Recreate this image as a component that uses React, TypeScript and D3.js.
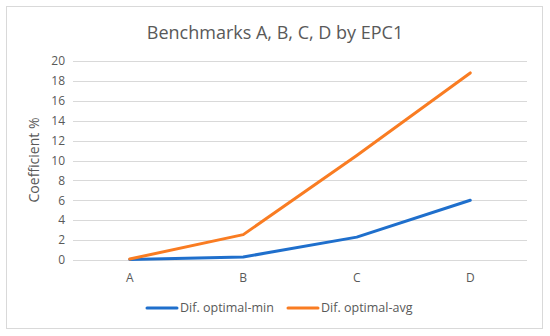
import React, { useEffect, useRef } from "react";
import * as d3 from "d3";

const categories = ["A", "B", "C", "D"];
const minValues = [0.05, 0.3, 2.3, 6.0];
const avgValues = [0.1, 2.55, 10.5, 18.8];
const seriesNames = ["Dif. optimal-min", "Dif. optimal-avg"];
const seriesColors = ["#1f6fcc", "#f97c22"];
const yTicks = [0, 2, 4, 6, 8, 10, 12, 14, 16, 18, 20];

const App = () => {
  const ref = useRef<SVGSVGElement>(null);

  useEffect(() => {
    const W = 550, H = 336;
    const margin = { top: 61, right: 23, bottom: 76, left: 73 };
    const width = W - margin.left - margin.right;
    const height = H - margin.top - margin.bottom;
    const font = "'Open Sans', sans-serif";

    const svg = d3.select(ref.current);
    svg.selectAll("*").remove();

    // frame
    svg.append("rect")
      .attr("x", 6.5).attr("y", 6.5)
      .attr("width", 536).attr("height", 322)
      .attr("fill", "#fff").attr("stroke", "#d9d9d9");

    svg.append("text")
      .attr("x", 275).attr("y", 39)
      .attr("text-anchor", "middle")
      .attr("font-family", font).attr("font-size", 18)
      .attr("fill", "#595959")
      .text("Benchmarks A, B, C, D by EPC1");

    const g = svg.append("g")
      .attr("transform", "translate(" + margin.left + "," + margin.top + ")");

    const x = d3.scalePoint<string>().domain(categories).range([0, width]).padding(0.5);
    const y = d3.scaleLinear().domain([0, 20]).range([height, 0]);

    // grid
    g.selectAll("line.grid")
      .data(yTicks)
      .enter().append("line")
      .attr("class", "grid")
      .attr("x1", 0).attr("x2", width)
      .attr("y1", d => Math.round(y(d)) + 0.5)
      .attr("y2", d => Math.round(y(d)) + 0.5)
      .attr("stroke", "#d9d9d9").attr("stroke-width", 1);

    g.selectAll("text.ytick")
      .data(yTicks)
      .enter().append("text")
      .attr("class", "ytick")
      .attr("x", -8).attr("y", d => y(d))
      .attr("dy", "0.35em")
      .attr("text-anchor", "end")
      .attr("font-family", font).attr("font-size", 12)
      .attr("fill", "#595959")
      .text(d => d);

    g.selectAll("text.xtick")
      .data(categories)
      .enter().append("text")
      .attr("class", "xtick")
      .attr("x", d => x(d)!).attr("y", height + 22)
      .attr("text-anchor", "middle")
      .attr("font-family", font).attr("font-size", 12)
      .attr("fill", "#595959")
      .text(d => d);

    svg.append("text")
      .attr("transform", "translate(39,160) rotate(-90)")
      .attr("text-anchor", "middle")
      .attr("font-family", font).attr("font-size", 14)
      .attr("fill", "#595959")
      .text("Coefficient %");

    const line = d3.line<number>()
      .x((d, i) => x(categories[i])!)
      .y(d => y(d));

    [minValues, avgValues].forEach((vals, i) => {
      g.append("path")
        .datum(vals)
        .attr("d", line)
        .attr("fill", "none")
        .attr("stroke", seriesColors[i])
        .attr("stroke-width", 3)
        .attr("stroke-linejoin", "round")
        .attr("stroke-linecap", "round");
    });

    // legend
    const legendX = [147, 288];
    seriesNames.forEach((name, i) => {
      const lg = svg.append("g").attr("transform", "translate(" + legendX[i] + ",308)");
      lg.append("line")
        .attr("x1", 0).attr("x2", 30).attr("y1", 0).attr("y2", 0)
        .attr("stroke", seriesColors[i]).attr("stroke-width", 3)
        .attr("stroke-linecap", "round");
      lg.append("text")
        .attr("x", 33).attr("y", 0).attr("dy", "0.35em")
        .attr("font-family", font).attr("font-size", 12.5)
        .attr("fill", "#595959")
        .text(name);
    });
  }, []);

  return (
    <svg ref={ref} width={550} height={336}
      style={{ position: "absolute", left: 0, top: 0, background: "#fff" }} />
  );
};

export default App;
